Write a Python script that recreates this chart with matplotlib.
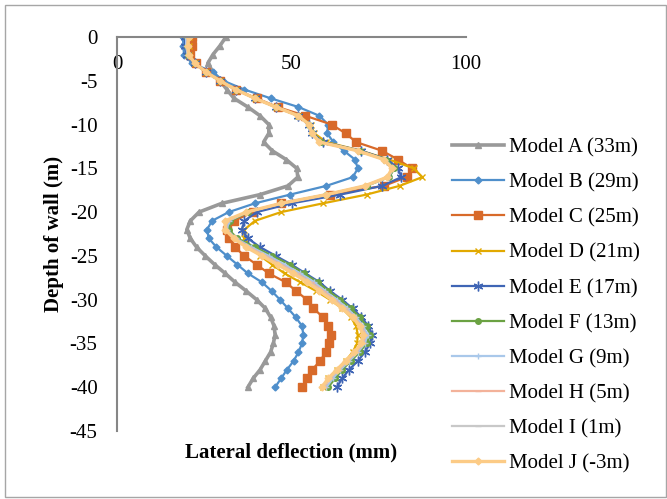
import numpy as np
import matplotlib.pyplot as plt
from matplotlib.patches import Rectangle

plt.rcParams['font.family'] = ['Liberation Serif', 'DejaVu Serif']
plt.rcParams['axes.unicode_minus'] = False

# depth of wall (m), one point per metre
depth = [-d for d in range(0, 41)]

# lateral deflection (mm), depth 0 .. -40
model_a = [31.2, 29.5, 27.5, 26.0, 27.5, 29.5, 31.5, 33.5, 37.5, 41.0,
           43.5, 43.5, 42.0, 44.5, 48.5, 51.5, 51.8, 49.0, 41.0, 30.0,
           23.5, 21.0, 20.0, 21.0, 22.8, 25.3, 28.0, 31.0, 33.8, 37.0,
           40.0, 42.5, 44.0, 45.0, 45.3, 44.8, 44.0, 42.5, 41.0, 39.0, 37.5]
model_b = [18.9, 19.0, 19.2, 21.5, 27.5, 30.5, 36.5, 44.0, 52.0, 58.0,
           60.5, 60.2, 62.0, 65.0, 68.2, 69.0, 67.6, 60.0, 49.6, 39.5,
           32.0, 27.2, 25.8, 26.3, 28.5, 31.5, 34.5, 37.5, 41.5, 44.3,
           46.7, 49.0, 51.2, 53.0, 53.4, 53.0, 52.0, 50.6, 48.7, 47.0, 45.3]
model_c = [21.5, 21.5, 21.0, 22.5, 25.5, 29.5, 34.0, 40.0, 46.0, 54.0,
           61.5, 65.5, 68.5, 76.0, 80.5, 84.5, 83.0, 76.5, 61.0, 47.0,
           39.0, 33.5, 31.5, 32.0, 33.8, 36.5, 40.0, 43.5, 48.3, 51.3,
           54.4, 56.3, 59.0, 60.6, 61.4, 60.8, 59.8, 58.2, 55.9, 54.4, 53.0]
model_d = [20.5, 20.5, 20.5, 22.3, 25.5, 29.5, 34.0, 39.5, 45.5, 52.0,
           55.5, 56.5, 60.0, 70.0, 78.0, 85.0, 87.5, 81.0, 71.5, 59.0,
           47.0, 39.5, 36.5, 36.5, 38.5, 41.0, 44.5, 48.0, 52.5, 57.0,
           61.0, 64.5, 67.0, 68.5, 69.0, 68.8, 67.5, 65.5, 63.0, 60.5, 59.0]
model_e = [19.5, 19.5, 20.0, 22.3, 25.5, 29.5, 34.0, 39.5, 45.5, 52.0,
           55.0, 56.0, 59.0, 70.0, 77.5, 80.5, 81.5, 76.0, 64.0, 50.0,
           40.0, 36.5, 35.8, 37.5, 41.0, 45.5, 50.0, 54.0, 58.0, 61.0,
           64.5, 67.5, 70.0, 72.0, 73.2, 72.5, 71.0, 69.0, 66.5, 64.5, 63.0]
model_f = [20.0, 20.0, 20.3, 22.3, 25.5, 29.5, 34.0, 39.5, 45.5, 52.0,
           55.0, 56.0, 58.5, 69.5, 77.0, 79.5, 78.0, 71.5, 60.0, 47.0,
           37.5, 32.5, 32.0, 34.5, 39.5, 44.5, 49.5, 53.5, 57.5, 60.5,
           64.0, 67.0, 69.5, 71.5, 72.5, 71.5, 69.5, 67.0, 64.5, 62.5, 60.5]
model_g = [19.8, 19.8, 20.2, 22.3, 25.5, 29.5, 34.0, 39.5, 45.5, 52.0,
           55.0, 56.0, 58.3, 69.3, 76.8, 79.2, 77.8, 71.3, 60.0, 47.0,
           37.3, 32.0, 31.5, 34.0, 38.5, 43.5, 48.0, 52.5, 56.5, 59.5,
           63.0, 66.0, 68.5, 70.5, 71.8, 71.0, 69.0, 66.5, 64.0, 61.8, 60.0]
model_h = [20.3, 20.2, 20.4, 22.3, 25.5, 29.5, 34.0, 39.5, 45.5, 52.0,
           55.0, 55.8, 58.2, 69.2, 76.6, 79.0, 77.6, 71.1, 60.0, 47.0,
           37.2, 31.5, 31.2, 33.8, 37.8, 42.5, 47.0, 51.5, 55.5, 59.0,
           62.3, 65.3, 68.0, 70.0, 71.2, 70.5, 68.5, 66.0, 63.5, 61.0, 59.3]
model_i = [20.4, 20.3, 20.5, 22.3, 25.5, 29.5, 34.0, 39.5, 45.5, 52.0,
           55.0, 55.8, 58.0, 69.0, 76.5, 78.9, 77.5, 71.0, 60.0, 47.0,
           37.1, 31.3, 31.1, 33.6, 37.4, 42.0, 46.5, 51.0, 55.0, 58.5,
           61.9, 64.9, 67.8, 69.8, 70.8, 70.3, 68.3, 65.8, 63.3, 60.8, 59.0]
model_j = [20.5, 20.3, 20.5, 22.3, 25.5, 29.5, 34.0, 39.5, 45.5, 52.0,
           55.0, 55.8, 58.0, 69.0, 76.5, 78.8, 77.5, 71.0, 60.0, 47.0,
           37.0, 31.0, 31.0, 33.5, 37.0, 41.5, 46.0, 50.5, 54.5, 58.0,
           61.5, 64.5, 67.5, 69.5, 70.5, 70.0, 68.0, 65.5, 63.0, 60.5, 58.7]

labels = ['Model A (33m)', 'Model B (29m)', 'Model C (25m)', 'Model D (21m)',
          'Model E (17m)', 'Model F (13m)', 'Model G (9m)', 'Model H (5m)',
          'Model I (1m)', 'Model J (-3m)']
series = [model_a, model_b, model_c, model_d, model_e,
          model_f, model_g, model_h, model_i, model_j]

# colour, marker, marker size, line width
styles = [
    ('#999999', '^', 4, 2.6),
    ('#4F8FCB', 'D', 3.5, 1.6),
    ('#D86A2A', 's', 6, 1.6),
    ('#E2A900', 'x', 4, 1.6),
    ('#3F65B5', (6, 2, 0), 7, 1.6),
    ('#6BA243', 'o', 4, 1.6),
    ('#A9C8EA', '+', 4, 1.6),
    ('#F3B29A', '_', 4, 1.6),
    ('#C8C8C8', '_', 4, 1.6),
    ('#FCCB86', 'D', 3.5, 2.4),
]

fig = plt.figure(figsize=(6.67, 4.99), dpi=100)
ax = fig.add_axes([117 / 667, 1 - 431 / 499, (466 - 117) / 667, (431 - 37) / 499])

for vals, lab, (col, mk, ms, lw) in zip(series, labels, styles):
    ax.plot(vals, depth, color=col, lw=lw, marker=mk, markersize=ms,
            markeredgecolor=col, markerfacecolor=col, markeredgewidth=1.0,
            label=lab)

ax.set_xlim(0, 100)
ax.set_ylim(-45, 0)
ax.set_xticks([0, 50, 100])
ax.set_yticks(range(-45, 1, 5))

for side in ['right', 'bottom']:
    ax.spines[side].set_visible(False)
for side in ['top', 'left']:
    ax.spines[side].set_color('#868686')
    ax.spines[side].set_linewidth(1.5)

ax.tick_params(axis='x', bottom=False, top=False, labelbottom=False,
               labeltop=True, pad=-30, labelsize=15)
ax.tick_params(axis='y', left=False, pad=10.5, labelsize=15)

ax.set_xlabel('Lateral deflection (mm)', fontsize=15, fontweight='bold', labelpad=8)
ax.set_ylabel('Depth of wall (m)', fontsize=15, fontweight='bold', labelpad=4)

ax.legend(loc='upper left', bbox_to_anchor=(452 / 667, 1 - 138 / 499),
          bbox_transform=fig.transFigure, frameon=False, fontsize=15,
          handlelength=2.5, handletextpad=0.25, labelspacing=0.745,
          borderpad=0, borderaxespad=0)

fig.patches.append(Rectangle((5 / 667, 2 / 499), 661 / 667, 492 / 499,
                             transform=fig.transFigure, fill=False,
                             edgecolor='#A6A6A6', lw=1))

fig.savefig('out.png', dpi=100)
